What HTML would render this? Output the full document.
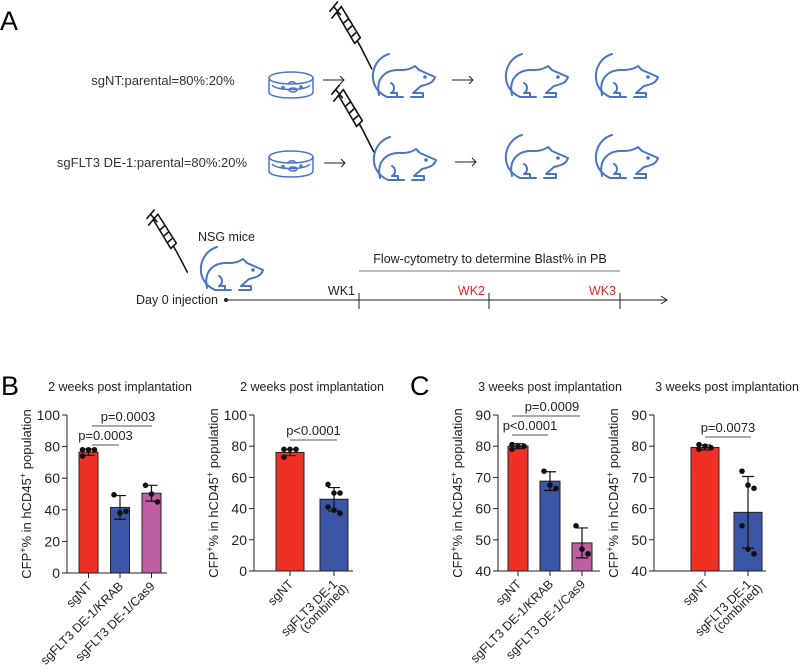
<!DOCTYPE html>
<html><head><meta charset="utf-8"><style>
html,body{margin:0;padding:0;background:#fff}
svg{display:block;font-family:"Liberation Sans",sans-serif}
</style></head><body>
<svg id="fig" width="800" height="672" viewBox="0 0 800 672">
<defs>
<g id="mouse" fill="none" stroke="#4a74c4" stroke-width="2" stroke-linecap="round" stroke-linejoin="round">
<path d="M22,1 C4,6 -2,34 20,44 L36,44"/>
<path d="M12,42 C8,24 20,16 34,17 C40,17 44,16 48,13 L52,17 L68,24 C66,30 62,31 54,33 L46,40 L56,40 L56,44 L44,44"/>
<path d="M24,30 C28,32 28,38 24,40 L30,40 L30,44"/>
<circle cx="58" cy="24" r="0.8" fill="#4a74c4"/>
</g>
<g id="dish" fill="none" stroke="#4a74c4" stroke-width="1.5">
<ellipse cx="23" cy="6" rx="22" ry="6"/>
<path d="M1,6 L1,20 C1,28 45,28 45,20 L45,6"/>
<path d="M4,13 C8,19 38,19 42,13"/>
<ellipse cx="25" cy="18" rx="4" ry="2"/><circle cx="15" cy="16" r="1.3"/><circle cx="33" cy="15" r="1"/><path d="M20,12 C22,9 26,9 28,12"/>
</g>
<g id="syringe" fill="none" stroke="#111" stroke-width="1.6" stroke-linecap="round">
<path d="M2,8 L10,0 M6,4 L13,11 M4,14 L14,4 M9,9 L28,36 M14,4 L34,31 M28,36 L34,31 M17,18 L21,15 M21,24 L25,21 M25,30 L29,27 M31,34 L35,40 L46,58"/>
</g>
</defs>

<text x="0" y="30" font-size="27">A</text>
<text x="163" y="85" font-size="13" text-anchor="middle" fill="#333">sgNT:parental=80%:20%</text>
<text x="152" y="167" font-size="13" text-anchor="middle" fill="#333">sgFLT3 DE-1:parental=80%:20%</text>
<use href="#dish" x="268" y="72"/>
<use href="#dish" x="268" y="151"/>
<g stroke="#222" stroke-width="1" fill="none">
<path d="M323,80 L344,80 M340,76 L344,80 L340,84"/>
<path d="M324,163 L345,163 M341,159 L345,163 L341,167"/>
<path d="M452,80 L473,80 M469,76 L473,80 L469,84"/>
<path d="M455,162 L476,162 M472,158 L476,162 L472,166"/>
</g>
<use href="#syringe" transform="translate(328,2) scale(0.95,1.15)"/>
<use href="#syringe" transform="translate(330,85) scale(0.95,1.15)"/>
<use href="#mouse" x="367" y="53"/>
<use href="#mouse" x="500" y="53"/>
<use href="#mouse" x="590" y="53"/>
<use href="#mouse" x="368" y="136"/>
<use href="#mouse" x="500" y="134"/>
<use href="#mouse" x="590" y="134"/>

<use href="#syringe" transform="translate(145,210) scale(0.92,1.07)"/>
<use href="#mouse" x="195" y="246"/>
<text x="198" y="241" font-size="12.5" fill="#222">NSG mice</text>
<text x="218" y="304" font-size="12.5" text-anchor="end" fill="#222">Day 0 injection</text>
<g stroke="#222" stroke-width="1" fill="none">
<circle cx="226" cy="300" r="1.5" fill="#222"/>
<path d="M226,300 L667,300 M661,296 L667,300 L661,304"/>
<path d="M359,293 L359,309 M489,293 L489,309 M620,293 L620,309"/>
</g>
<line x1="359" y1="271" x2="620" y2="271" stroke="#777" stroke-width="1"/>
<text x="490" y="263" font-size="12.5" text-anchor="middle" fill="#222">Flow-cytometry to determine Blast% in PB</text>
<text x="355" y="295" font-size="12.5" text-anchor="end" fill="#222">WK1</text>
<text x="485" y="295" font-size="12.5" text-anchor="end" fill="#e8231f">WK2</text>
<text x="616" y="295" font-size="12.5" text-anchor="end" fill="#e8231f">WK3</text>

<text x="1" y="395" font-size="27">B</text>
<text x="410" y="395" font-size="27">C</text>
<g id="charts"></g>
</svg>
<script>
// B1: 2 weeks, three groups
const b1Cats=["sgNT","sgFLT3 DE-1/KRAB","sgFLT3 DE-1/Cas9"];
const b1Means=[76.5,41.5,50.5];
const b1Err=[2,7.5,5];
const b1Dots=[[78,78,78,74],[49.5,38,39],[55.5,50,45]];
const b1Ticks=[0,20,40,60,80,100];
// B2: 2 weeks, combined
const b2Cats=["sgNT","sgFLT3 DE-1|(combined)"];
const b2Means=[76,46];
const b2Err=[2,7.5];
const b2Dots=[[78,78,78,73],[55.5,50,50,41,39,37]];
const b2Ticks=[0,20,40,60,80,100];
// C1: 3 weeks, three groups
const c1Cats=["sgNT","sgFLT3 DE-1/KRAB","sgFLT3 DE-1/Cas9"];
const c1Means=[80,68.8,49];
const c1Err=[0.8,3,4.8];
const c1Dots=[[80.5,80,80,79],[72,67.5,66.5],[54.5,47,45.5]];
const c1Ticks=[40,50,60,70,80,90];
// C2: 3 weeks, combined
const c2Cats=["sgNT","sgFLT3 DE-1|(combined)"];
const c2Means=[79.6,58.8];
const c2Err=[0.8,11.5];
const c2Dots=[[80.5,80,79.5,79],[72,67.5,66.5,54.5,47,45.5]];
const c2Ticks=[40,50,60,70,80,90];

const NS="http://www.w3.org/2000/svg";
const root=document.getElementById('charts');
function mk(tag,attrs,parent){const e=document.createElementNS(NS,tag);for(const k in attrs)e.setAttribute(k,attrs[k]);(parent||root).appendChild(e);return e;}
const colors3=["#ee3124","#3a56a5","#bf5fa3"];

function chart(cfg){
  const g=mk('g',{});
  
  
  const ymin=cfg.ticks[0],ymax=cfg.ticks[cfg.ticks.length-1];
  const y=v=>cfg.y0-(v-ymin)/(ymax-ymin)*(cfg.y0-cfg.y1);
  const t=mk('text',{x:cfg.titleX,y:391,'font-size':12.5,'text-anchor':'middle',fill:'#222'},g);
  t.textContent=cfg.title;
  
  
  cfg.means.forEach((m,i)=>{
    const cx=cfg.x0+cfg.first+i*cfg.step;
    const r=mk('rect',{x:cx-cfg.bw/2,y:y(m),width:cfg.bw,height:cfg.y0-y(m),fill:colors3[i],stroke:'#222','stroke-width':1},g);
    
    
    const e=mk('path',{d:`M${cx},${y(m-cfg.err[i])}L${cx},${y(m+cfg.err[i])}M${cx-6},${y(m-cfg.err[i])}L${cx+6},${y(m-cfg.err[i])}M${cx-6},${y(m+cfg.err[i])}L${cx+6},${y(m+cfg.err[i])}`,stroke:'#111','stroke-width':1.2,fill:'none'},g);
    
    
    const n=cfg.dots[i].length;
    cfg.dots[i].forEach((d,j)=>{
      const off=n===1?0:(j%3-1)*6;
      const c=mk('circle',{cx:cx+off,cy:y(d),r:2.8,fill:'#111'},g);
      
      
    });
    mk('line',{x1:cx,y1:cfg.y0,x2:cx,y2:cfg.y0+5,stroke:'#222'},g);
    const lines=cfg.cats[i].split('|');
    lines.forEach((ln,k)=>{
      const lx=cx+4+k*11,ly=cfg.y0+14+k*4;
      const tx=mk('text',{x:lx,y:ly,'font-size':12.5,'text-anchor':'end',fill:'#222',transform:`rotate(-45 ${lx} ${ly})`},g);
      tx.textContent=ln;
      
      
    });
  });
  mk('path',{d:`M${cfg.x0},${cfg.y1}L${cfg.x0},${cfg.y0}L${cfg.xEnd},${cfg.y0}`,stroke:'#222','stroke-width':1,fill:'none'},g);
  cfg.ticks.forEach(tv=>{
    mk('line',{x1:cfg.x0-5,y1:y(tv),x2:cfg.x0,y2:y(tv),stroke:'#222'},g);
    const tx=mk('text',{x:cfg.x0-7,y:y(tv)+5,'font-size':14,'text-anchor':'end',fill:'#222'},g);
    tx.textContent=tv;
    
    
  });
  const yl=mk('text',{x:0,y:0,'font-size':13,'text-anchor':'middle',fill:'#222',transform:`translate(${cfg.x0-36},${(cfg.y0+cfg.y1)/2}) rotate(-90)`},g);
  yl.innerHTML='CFP<tspan dy="-5" font-size="9">+</tspan><tspan dy="5">% in hCD45</tspan><tspan dy="-5" font-size="9">+</tspan><tspan dy="5"> population</tspan>';
  
  
  cfg.sig.forEach(s=>{
    mk('line',{x1:s[0],y1:s[2],x2:s[1],y2:s[2],stroke:'#555','stroke-width':1},g);
    const tx=mk('text',{x:(s[0]+s[1])/2+(s[4]||0),y:s[2]-5,'font-size':13,'text-anchor':'middle',fill:'#222'},g);
    tx.textContent=s[3];
    
    
  });
}
chart({name:'chart-b-three-groups',title:'2 weeks post implantation',titleX:120,x0:67,xEnd:167,y0:573,y1:415,first:21.5,step:31.5,bw:19,cats:b1Cats,means:b1Means,err:b1Err,dots:b1Dots,ticks:b1Ticks,sig:[[92,119,445,'p=0.0003'],[92,152,426,'p=0.0003',6]]});
chart({name:'chart-b-combined',title:'2 weeks post implantation',titleX:312,x0:254,xEnd:353,y0:571,y1:415,first:36,step:44,bw:28,cats:b2Cats,means:b2Means,err:b2Err,dots:b2Dots,ticks:b2Ticks,sig:[[290,337,440,'p<0.0001']]});
chart({name:'chart-c-three-groups',title:'3 weeks post implantation',titleX:550,x0:498,xEnd:600,y0:571,y1:415,first:20,step:32,bw:20,cats:c1Cats,means:c1Means,err:c1Err,dots:c1Dots,ticks:c1Ticks,sig:[[512,548,435,'p<0.0001'],[512,580,416,'p=0.0009',6]]});
chart({name:'chart-c-combined',title:'3 weeks post implantation',titleX:727,x0:654,xEnd:766,y0:571,y1:415,first:51,step:43,bw:28,cats:c2Cats,means:c2Means,err:c2Err,dots:c2Dots,ticks:c2Ticks,sig:[[705,751,437,'p=0.0073']]});
</script>
</body></html>
